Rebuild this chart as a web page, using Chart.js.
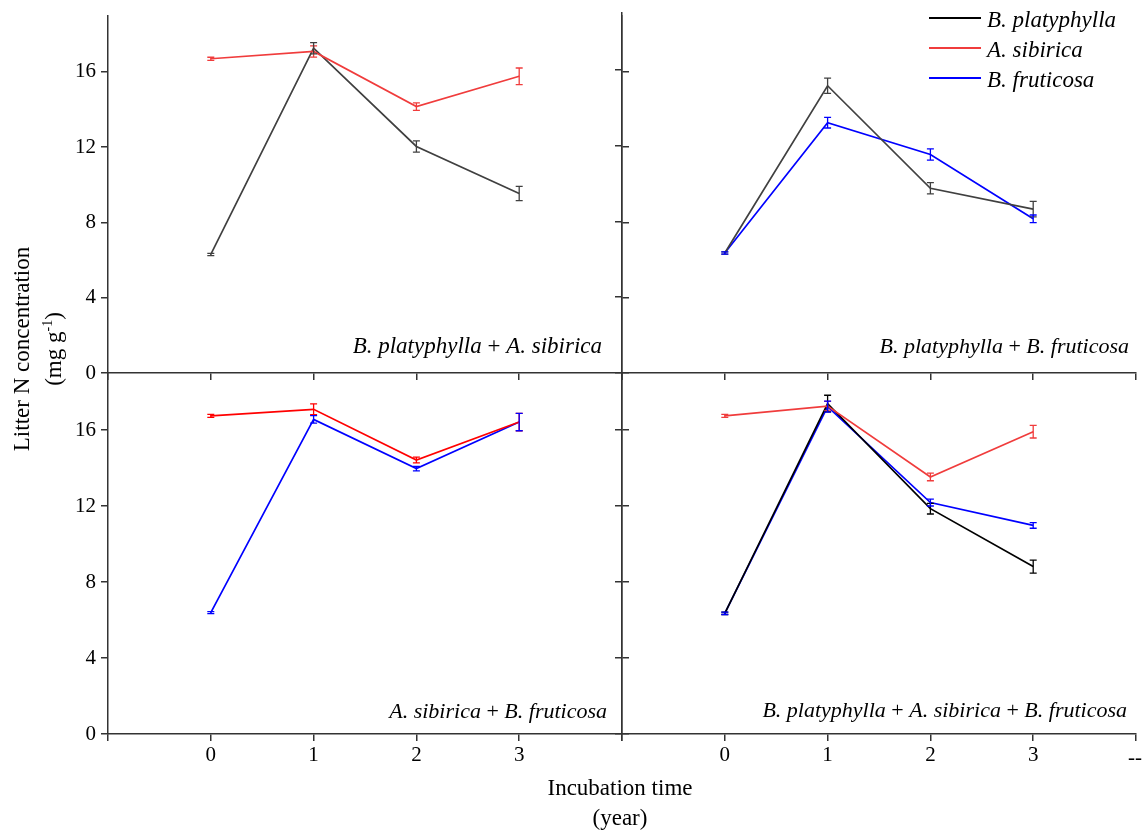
<!DOCTYPE html>
<html>
<head>
<meta charset="utf-8">
<script src="https://cdn.jsdelivr.net/npm/chart.js@4.4.0/dist/chart.umd.min.js"></script>
<style>
  html, body { margin: 0; padding: 0; background: #fff; }
  #fig { position: relative; width: 1142px; height: 830px; overflow: hidden;
         font-family: "Liberation Serif", "Times New Roman", serif; color: #000; }
  #fig canvas { position: absolute; left: 0; top: 0; }
  .txt { position: absolute; white-space: nowrap; font-size: 23px; line-height: 23px; }
  .lab { text-align: right; }
  .lab.sm { font-size: 22px; line-height: 22px; }
  .ytitle { position: absolute; left: -162px; top: 317px; width: 400px; height: 64px;
            font-size: 23px; line-height: 32px; text-align: center; transform: rotate(-90deg); }
  .ytitle sup { font-size: 14px; line-height: 0; }
  .xtitle { position: absolute; left: 470px; top: 773px; width: 300px;
            font-size: 23px; line-height: 30px; text-align: center; }
  .leg-line { position: absolute; left: 929px; width: 52px; height: 2px; }
  .leg-text { position: absolute; left: 987px; font-size: 23px; line-height: 23px; font-style: italic; white-space: nowrap; }
</style>
</head>
<body>
<div id="fig">
  <canvas id="pA" width="1142" height="830"></canvas>
  <canvas id="pB" width="1142" height="830"></canvas>
  <canvas id="pC" width="1142" height="830"></canvas>
  <canvas id="pD" width="1142" height="830"></canvas>

  <div class="ytitle">Litter N concentration<br>(mg g<sup>-1</sup>)</div>
  <div class="xtitle">Incubation time<br>(year)</div>

  <div class="txt lab" style="right:540px; top:334px;"><i>B. platyphylla</i> + <i>A. sibirica</i></div>
  <div class="txt lab sm" style="right:13px; top:335px;"><i>B. platyphylla</i> + <i>B. fruticosa</i></div>
  <div class="txt lab sm" style="right:535px; top:700px;"><i>A. sibirica</i> + <i>B. fruticosa</i></div>
  <div class="txt lab sm" style="right:15px; top:699px;"><i>B. platyphylla</i> + <i>A. sibirica</i> + <i>B. fruticosa</i></div>

  <div class="txt" style="left:1128px; top:746px; font-size:21px;">--</div>

  <div id="legend"></div>
</div>

<script>
// x: incubation year, y: litter N (mg g-1)
const years = [0, 1, 2, 3];
const xTicks = [-1, 0, 1, 2, 3, 4];
const xTickLabels = [0, 1, 2, 3];
const yTicks = [0, 4, 8, 12, 16];
const species = ['B. platyphylla', 'A. sibirica', 'B. fruticosa'];

// panel A: B. platyphylla + A. sibirica
const aPlaty = [6.30, 17.26, 12.04, 9.54];
const aPlatyErr = [0.06, 0.30, 0.30, 0.38];
const aSib = [16.70, 17.09, 14.16, 15.77];
const aSibErr = [0.08, 0.30, 0.20, 0.44];

// panel B: B. platyphylla + B. fruticosa
const bPlaty = [6.33, 15.16, 9.75, 8.65];
const bPlatyErr = [0.06, 0.40, 0.30, 0.41];
const bFrut = [6.33, 13.21, 11.53, 8.14];
const bFrutErr = [0.06, 0.28, 0.30, 0.20];

// panel C: A. sibirica + B. fruticosa
const cSib = [16.74, 17.09, 14.42, 16.42];
const cSibErr = [0.08, 0.28, 0.15, 0.46];
const cFrut = [6.39, 16.56, 13.97, 16.42];
const cFrutErr = [0.05, 0.20, 0.12, 0.46];

// panel D: all three
const dPlaty = [6.35, 17.39, 11.86, 8.81];
const dPlatyErr = [0.06, 0.44, 0.28, 0.34];
const dSib = [16.74, 17.26, 13.53, 15.91];
const dSibErr = [0.08, 0.25, 0.20, 0.33];
const dFrut = [6.35, 17.23, 12.18, 10.98];
const dFrutErr = [0.06, 0.29, 0.18, 0.15];

const GREY = '#404040', BLACK = '#000000', LRED = '#f03c3c', RED = '#ff0000', BLUE = '#0000ff';
const AXIS = '#333333';
const tickFont = { family: 'Liberation Serif', size: 21, lineHeight: 1 };

// legend (html)
const legendColors = [BLACK, LRED, BLUE];
const legend = document.getElementById('legend');
species.forEach((name, i) => {
  const line = document.createElement('div');
  line.className = 'leg-line';
  line.style.top = (16.5 + i * 30) + 'px';
  line.style.background = legendColors[i];
  const txt = document.createElement('div');
  txt.className = 'leg-text';
  txt.style.top = (7.5 + i * 30) + 'px';
  txt.textContent = name;
  legend.appendChild(line);
  legend.appendChild(txt);
});

const errorBars = {
  id: 'errorBars',
  afterDatasetsDraw(chart) {
    const { ctx } = chart;
    const x = chart.scales.x, y = chart.scales.y;
    chart.data.datasets.forEach((ds, i) => {
      if (!ds.errors) return;
      ctx.save();
      ctx.strokeStyle = ds.borderColor;
      ctx.lineWidth = 1.3;
      ds.data.forEach((p, j) => {
        const px = x.getPixelForValue(p.x);
        const top = y.getPixelForValue(p.y + ds.errors[j]);
        const bot = y.getPixelForValue(p.y - ds.errors[j]);
        ctx.beginPath();
        ctx.moveTo(px, top); ctx.lineTo(px, bot);
        ctx.moveTo(px - 3.5, top); ctx.lineTo(px + 3.5, top);
        ctx.moveTo(px - 3.5, bot); ctx.lineTo(px + 3.5, bot);
        ctx.stroke();
      });
      ctx.restore();
    });
  }
};

function series(vals, errs, color) {
  return {
    data: years.map((yr, i) => ({ x: yr, y: vals[i] })),
    errors: errs,
    borderColor: color,
    borderWidth: 1.7,
    pointRadius: 0,
    tension: 0,
    fill: false
  };
}

function axisGrid() {
  return { drawOnChartArea: false, drawTicks: true, tickLength: 7, color: AXIS, lineWidth: 1.5 };
}

function makePanel(id, opt) {
  const scales = {
    x: {
      type: 'linear', min: -1, max: 4, position: 'bottom',
      afterBuildTicks: s => { s.ticks = xTicks.map(v => ({ value: v })); },
      afterFit: s => { s.height = opt.xLabels ? 40 : 7; },
      ticks: {
        display: opt.xLabels, font: tickFont, color: '#000', padding: 4,
        maxRotation: 0, autoSkip: false,
        callback: v => xTickLabels.includes(v) ? String(v) : ''
      },
      grid: axisGrid(),
      border: { display: true, color: AXIS, width: 1.5 }
    },
    y: {
      type: 'linear', min: 0, max: 19, position: 'left',
      afterBuildTicks: s => { s.ticks = yTicks.map(v => ({ value: v })); },
      afterFit: s => { s.width = opt.yLabels ? 50 : 7; },
      ticks: { display: opt.yLabels, font: tickFont, color: '#000', padding: 5 },
      grid: axisGrid(),
      border: { display: true, color: AXIS, width: 1.5 }
    }
  };
  if (opt.rightTicks) {
    scales.y2 = {
      type: 'linear', min: 0, max: 19, position: 'right',
      afterBuildTicks: s => { s.ticks = yTicks.map(v => ({ value: v })); },
      afterFit: s => { s.width = 7; },
      ticks: { display: false },
      grid: axisGrid(),
      border: { display: true, color: AXIS, width: 1.5 }
    };
  }
  return new Chart(document.getElementById(id), {
    type: 'line',
    data: { datasets: opt.datasets },
    plugins: [errorBars],
    options: {
      responsive: false,
      animation: false,
      layout: { padding: opt.padding },
      scales,
      plugins: { legend: { display: false }, tooltip: { enabled: false } }
    }
  });
}

makePanel('pA', {
  xLabels: false, yLabels: true, rightTicks: true,
  padding: { left: 58, right: 513, top: 13, bottom: 450 },
  datasets: [series(aSib, aSibErr, LRED), series(aPlaty, aPlatyErr, GREY)]
});
makePanel('pB', {
  xLabels: false, yLabels: false, rightTicks: false,
  padding: { left: 615, right: 6, top: 13, bottom: 450 },
  datasets: [series(bPlaty, bPlatyErr, GREY), series(bFrut, bFrutErr, BLUE)]
});
makePanel('pC', {
  xLabels: true, yLabels: true, rightTicks: true,
  padding: { left: 58, right: 513, top: 373, bottom: 56 },
  datasets: [series(cSib, cSibErr, RED), series(cFrut, cFrutErr, BLUE)]
});
makePanel('pD', {
  xLabels: true, yLabels: false, rightTicks: false,
  padding: { left: 615, right: 6, top: 373, bottom: 56 },
  datasets: [series(dSib, dSibErr, LRED), series(dPlaty, dPlatyErr, BLACK), series(dFrut, dFrutErr, BLUE)]
});
</script>
</body>
</html>
